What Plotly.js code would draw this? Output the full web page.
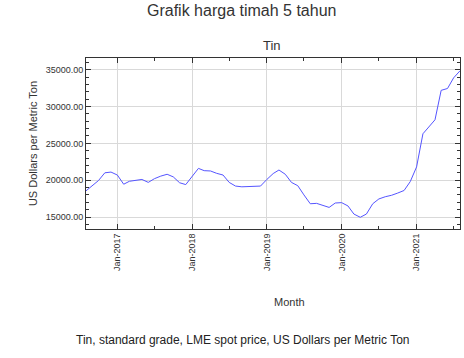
<!DOCTYPE html>
<html>
<head>
<meta charset="utf-8">
<script src="https://cdn.plot.ly/plotly-3.0.1.min.js"></script>
<style>html,body{margin:0;padding:0;background:#fff;}#chart{width:464px;height:358px;}</style>
</head>
<body>
<div id="chart"></div>
<script>
// Monthly data, Aug 2016 .. Aug 2021
const startYear = 2016;
const startMonth = 8;
const prices = [
  18550, 19300, 19950, 21000, 21100,               // Aug-Dec 2016
  20700, 19450, 19850, 19950, 20100, 19700, 20200, 20550, 20800, 20450, 19650, 19400, // 2017
  20450, 21600, 21290, 21250, 20930, 20700, 19700, 19200, 19100, 19150, 19200, 19200, // 2018
  20100, 20900, 21380, 20800, 19700, 19250, 18000, 16800, 16850, 16600, 16300, 16900, // 2019
  16950, 16500, 15400, 14960, 15400, 16800, 17450, 17750, 17950, 18250, 18600, 19800, // 2020
  21800, 26300, 27200, 28200, 32200, 32450, 33900, 34850                             // Jan-Aug 2021
];
const months = prices.map((_, i) => {
  const m0 = startMonth - 1 + i;
  const y = startYear + Math.floor(m0 / 12);
  const m = (m0 % 12) + 1;
  return y + '-' + String(m).padStart(2, '0') + '-01';
});
const titleText = 'Grafik harga timah 5 tahun';
const subTitle = 'Tin';
const yTitle = 'US Dollars per Metric Ton';
const xTitle = 'Month';
const caption = 'Tin, standard grade, LME spot price, US Dollars per Metric Ton';

const L = 86, R = 460.5, T = 58, B = 229;
const W = R - L, H = B - T;
const px = x => (x - L) / W;
const py = y => (B - y) / H;
const font = 'Liberation Sans, Arial, sans-serif';

const trace = {
  x: months, y: prices, type: 'scatter', mode: 'lines',
  line: {color: 'rgb(85,85,255)', width: 1}, hoverinfo: 'skip'
};

const axisCommon = {
  showline: true, linecolor: '#333', linewidth: 1, mirror: 'allticks',
  ticks: 'inside', ticklen: 5, tickcolor: '#333', tickwidth: 1,
  gridcolor: '#d9d9d9', gridwidth: 1, zeroline: false,
  tickfont: {family: font, size: 9, color: '#333'}
};

const layout = {
  width: 464, height: 358,
  margin: {l: L, r: 464 - R, t: T, b: 358 - B},
  paper_bgcolor: '#fff', plot_bgcolor: '#fff',
  showlegend: false,
  xaxis: Object.assign({}, axisCommon, {
    type: 'date', range: [months[0], months[months.length - 1]],
    tickvals: ['2017-01-01', '2018-01-01', '2019-01-01', '2020-01-01', '2021-01-01'],
    tickformat: '%b-%Y', tickangle: -90,
    minor: {tickvals: ['2016-07-01','2017-07-01','2018-07-01','2019-07-01','2020-07-01','2021-07-01'], ticklen: 3, tickcolor: '#333', showgrid: false, ticks: 'inside'}
  }),
  yaxis: Object.assign({}, axisCommon, {
    range: [13370, 36590], dtick: 5000, tick0: 0, tickformat: '.2f',
    minor: {dtick: 1000, ticklen: 3, tickcolor: '#333', showgrid: false, ticks: 'inside'}
  }),
  annotations: [
    {text: titleText, xref: 'paper', yref: 'paper', x: px(242), y: py(10), showarrow: false,
     xanchor: 'center', yanchor: 'middle', font: {family: font, size: 16, color: '#333'}},
    {text: subTitle, xref: 'paper', yref: 'paper', x: px(272.5), y: py(45.5), showarrow: false,
     xanchor: 'center', yanchor: 'middle', font: {family: font, size: 13, color: '#333'}},
    {text: yTitle, xref: 'paper', yref: 'paper', x: px(32.5), y: py(143.5), showarrow: false,
     textangle: -90, xanchor: 'center', yanchor: 'middle', font: {family: font, size: 11, color: '#333'}},
    {text: xTitle, xref: 'paper', yref: 'paper', x: px(289.5), y: py(301.5), showarrow: false,
     xanchor: 'center', yanchor: 'middle', font: {family: font, size: 11, color: '#333'}},
    {text: caption, xref: 'paper', yref: 'paper', x: px(242.5), y: py(340), showarrow: false,
     xanchor: 'center', yanchor: 'middle', font: {family: font, size: 12, color: '#222'}}
  ]
};

Plotly.newPlot('chart', [trace], layout, {staticPlot: true, displayModeBar: false});
</script>
</body>
</html>
